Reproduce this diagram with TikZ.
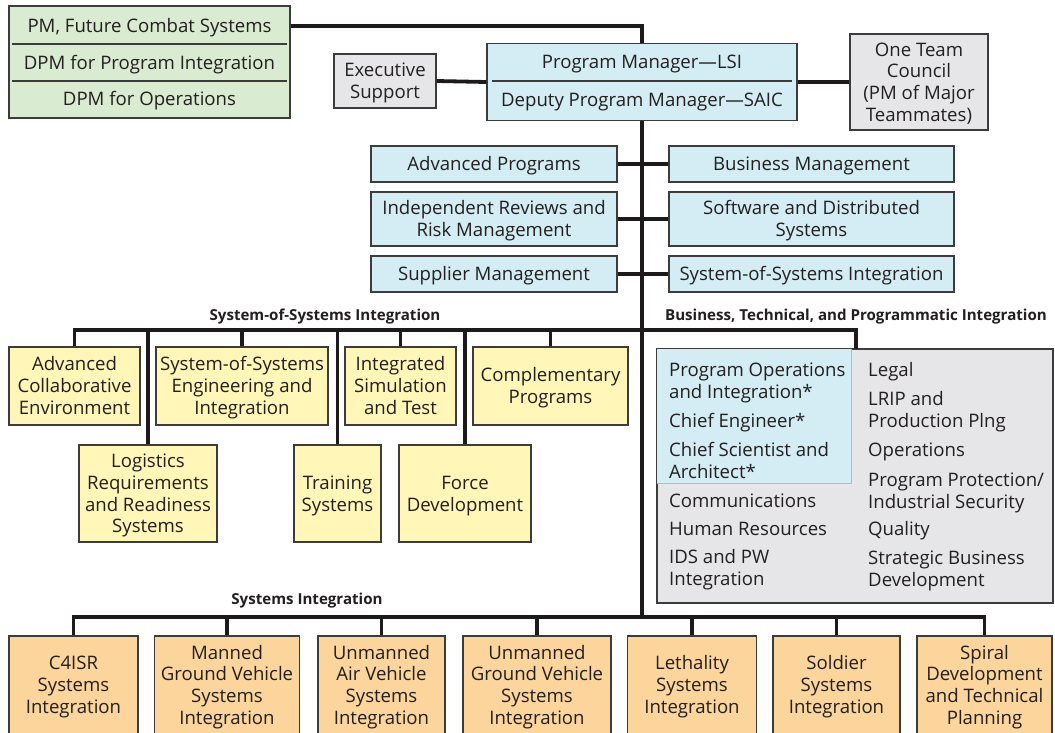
\documentclass[tikz,border=0pt]{standalone}
\usepackage{fontspec}
\setmainfont{Open Sans}
\newcommand\mts{\rule{0pt}{18pt}}
\newcommand\mbs{\rule[-4.7pt]{0pt}{0pt}}
\definecolor{txt}{HTML}{231F20}
\definecolor{edge}{HTML}{3C3C3C}
\definecolor{lnc}{HTML}{1E1A1B}
\definecolor{cgreen}{HTML}{D9EBD0}
\definecolor{cblue}{HTML}{D4ECF3}
\definecolor{cgray}{HTML}{E6E6E8}
\definecolor{cyellow}{HTML}{FFF6B8}
\definecolor{corange}{HTML}{FBD59C}
\definecolor{cblueedge}{HTML}{A9BEC6}
\tikzset{
  txtfont/.style={text=txt, font=\fontsize{18.6}{21.7}\selectfont,
    execute at begin node={\rule{0pt}{18pt}},
    execute at end node={\rule[-4.7pt]{0pt}{0pt}}},
  boxbase/.style={draw=edge, line width=1.3pt, inner sep=0pt, align=center, txtfont},
  gbox/.style={boxbase, fill=cgreen},
  bbox/.style={boxbase, fill=cblue},
  greybox/.style={boxbase, fill=cgray},
  ybox/.style={boxbase, fill=cyellow},
  obox/.style={boxbase, fill=corange},
  plain/.style={inner sep=0pt, txtfont},
  item/.style={plain, anchor=west, align=left},
  lbl/.style={inner sep=0pt, text=txt, font=\fontsize{15.1}{17}\selectfont\bfseries,
    execute at begin node={\rule{0pt}{14.7pt}},
    execute at end node={\rule[-3.8pt]{0pt}{0pt}}},
  conn/.style={draw=lnc, line width=3.8pt},
  divider/.style={draw=edge, line width=1.2pt},
}
\begin{document}
\begin{tikzpicture}[x=1pt, y=-1pt]
\useasboundingbox (0,0) rectangle (1055,732);
\fill[white] (0,0) rectangle (1055,732);

% coordinates for buses
\coordinate (sosbus) at (642,330);
\coordinate (sibus) at (642,617);
\coordinate (btidrop) at (856,349);

% ---------------- top
\node[gbox, minimum width=281pt, minimum height=112pt] (fcs) at (149.5,62) {};
\node[plain] (fcs1) at (149.5,26) {PM, Future Combat Systems};
\node[plain] (fcs2) at (149.5,63) {DPM for Program Integration};
\node[plain] (fcs3) at (149.5,99) {DPM for Operations};
\coordinate (fd1) at (149.5,44);
\coordinate (fd2) at (149.5,81);

\node[bbox, minimum width=310pt, minimum height=77pt] (pm) at (642,82) {};
\node[plain] (pm1) at (642,62) {Program Manager—LSI};
\node[plain] (pm2) at (642,100) {Deputy Program Manager—SAIC};
\coordinate (pd) at (642,81);

\node[greybox, minimum width=102pt, minimum height=54pt] (exec) at (385,81) {\mts Executive\\Support\mbs};
\node[greybox, minimum width=138pt, minimum height=96pt] (otc) at (919,82) {\mts One Team\\Council\\(PM of Major\\Teammates)\mbs};

% ---------------- staff rows
\node[bbox, minimum width=246pt, minimum height=36pt] (adv) at (494,164) {Advanced Programs};
\node[bbox, minimum width=285pt, minimum height=36pt] (busm) at (811.5,164) {Business Management};
\node[bbox, minimum width=246pt, minimum height=54pt] (irr) at (494,219) {\mts Independent Reviews and\\Risk Management\mbs};
\node[bbox, minimum width=285pt, minimum height=54pt] (sds) at (811.5,219) {\mts Software and Distributed\\Systems\mbs};
\node[bbox, minimum width=246pt, minimum height=36pt] (sup) at (494,274) {Supplier Management};
\node[bbox, minimum width=285pt, minimum height=36pt] (sosi) at (811.5,274) {System-of-Systems Integration};

% ---------------- SoS integration
\node[ybox, minimum width=131pt, minimum height=78pt] (ace) at (74.5,386) {\mts Advanced\\Collaborative\\Environment\mbs};
\node[ybox, minimum width=172pt, minimum height=78pt] (sosei) at (242,386) {\mts System-of-Systems\\Engineering and\\Integration\mbs};
\node[ybox, minimum width=111pt, minimum height=78pt] (ist) at (400.5,386) {\mts Integrated\\Simulation\\and Test\mbs};
\node[ybox, minimum width=155pt, minimum height=78pt] (comp) at (550.5,386) {\mts Complementary\\Programs\mbs};
\node[ybox, minimum width=138pt, minimum height=97pt] (logi) at (148,493.5) {\mts Logistics\\Requirements\\and Readiness\\Systems\mbs};
\node[ybox, minimum width=87pt, minimum height=97pt] (train) at (337.5,493.5) {\mts Training\\Systems\mbs};
\node[ybox, minimum width=132pt, minimum height=97pt] (force) at (465,493.5) {\mts Force\\Development\mbs};

\node[lbl] (lblsos) at (325,315) {System-of-Systems Integration};
\node[lbl] (lblbti) at (856,315) {Business, Technical, and Programmatic Integration};
\node[lbl] (lblsi) at (307,599) {Systems Integration};

% ---------------- Business, technical, programmatic
\node[greybox, minimum width=396pt, minimum height=254pt] (bti) at (855,476) {};
\node[draw=cblueedge, fill=cblue, line width=0.8pt, inner sep=0pt, minimum width=195pt, minimum height=135pt, anchor=north west] (btib) at (bti.north west) {};
\draw[draw=edge, line width=1.3pt] (bti.north west) rectangle (bti.south east);

\node[item] (i1) at (669,380.5) {\mts Program Operations\\and Integration*\mbs};
\node[item] (i2) at (669,421) {Chief Engineer*};
\node[item] (i3) at (669,461) {\mts Chief Scientist and\\Architect*\mbs};
\node[item] (i4) at (669,501) {Communications};
\node[item] (i5) at (669,529) {Human Resources};
\node[item] (i6) at (669,567.5) {\mts IDS and PW\\Integration\mbs};
\node[item] (j1) at (868,370) {Legal};
\node[item] (j2) at (868,410) {\mts LRIP and\\Production Plng\mbs};
\node[item] (j3) at (868,450) {Operations};
\node[item] (j4) at (868,490.5) {\mts Program Protection/\\Industrial Security\mbs};
\node[item] (j5) at (868,529) {Quality};
\node[item] (j6) at (868,569) {\mts Strategic Business\\Development\mbs};

% ---------------- Systems integration
\node[obox, minimum width=129pt, minimum height=98pt] (c4) at (73.5,685) {\mts C4ISR\\Systems\\Integration\mbs};
\node[obox, minimum width=145pt, minimum height=98pt] (mgv) at (227,685) {\mts Manned\\Ground Vehicle\\Systems\\Integration\mbs};
\node[obox, minimum width=127pt, minimum height=98pt] (uav) at (381.5,685) {\mts Unmanned\\Air Vehicle\\Systems\\Integration\mbs};
\node[obox, minimum width=148pt, minimum height=98pt] (ugv) at (537,685) {\mts Unmanned\\Ground Vehicle\\Systems\\Integration\mbs};
\node[obox, minimum width=129pt, minimum height=98pt] (leth) at (692,685) {\mts Lethality\\Systems\\Integration\mbs};
\node[obox, minimum width=127pt, minimum height=98pt] (sold) at (836.5,685) {\mts Soldier\\Systems\\Integration\mbs};
\node[obox, minimum width=135pt, minimum height=98pt] (spir) at (984.5,685) {\mts Spiral\\Development\\and Technical\\Planning\mbs};

% ---------------- dividers
\draw[divider] ([xshift=4pt]fcs.west |- fd1) -- ([xshift=-4pt]fcs.east |- fd1);
\draw[divider] ([xshift=4pt]fcs.west |- fd2) -- ([xshift=-4pt]fcs.east |- fd2);
\draw[divider] ([xshift=6pt]pm.west |- pd) -- ([xshift=-6pt]pm.east |- pd);

% ---------------- connectors
\draw[conn] (fcs.east |- fcs1) -- (pm.north |- fcs1) -- (pm.north);
\draw[conn] (exec.east) -- (pm.west);
\draw[conn] (pm.east) -- (otc.west);
\draw[conn] (pm.south) -- (sibus);
\draw[conn] (adv.east) -- (busm.west);
\draw[conn] (irr.east) -- (sds.west);
\draw[conn] (sup.east) -- (sosi.west);

\draw[conn] (ace.north) -- (ace.north |- sosbus) -- (btidrop |- sosbus) -- (btidrop);
\foreach \n in {logi,sosei,train,ist,force,comp}
  \draw[conn] (\n.north) -- (\n.north |- sosbus);

\draw[conn] (c4.north) -- (c4.north |- sibus) -- (spir.north |- sibus) -- (spir.north);
\foreach \n in {mgv,uav,ugv,leth,sold}
  \draw[conn] (\n.north) -- (\n.north |- sibus);
\end{tikzpicture}
\end{document}
